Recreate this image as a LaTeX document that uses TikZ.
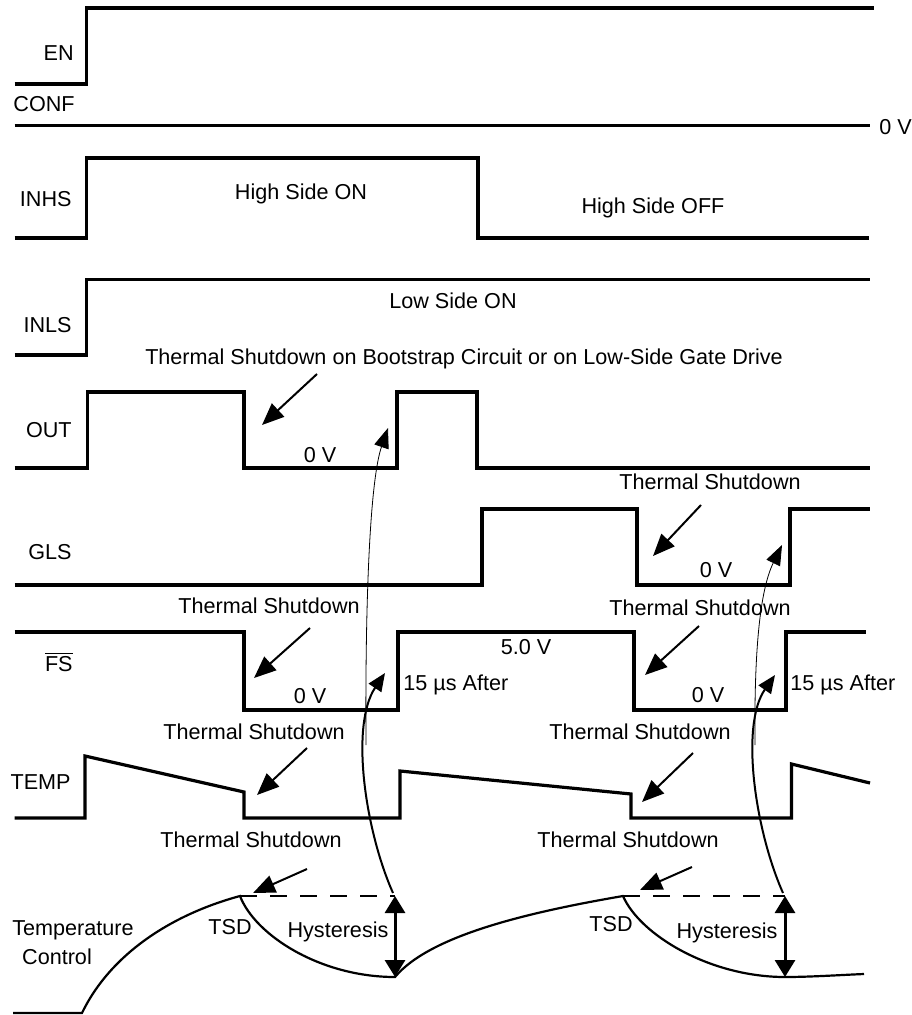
\documentclass[tikz,border=0pt]{standalone}
\usepackage{fontspec}
\setmainfont{Liberation Sans}
\usetikzlibrary{arrows.meta}

\begin{document}
\begin{tikzpicture}[
            x=0.5pt, y=-0.5pt,
            line join=miter,
            signal/.style={line width=1.6pt},
            sig name/.style={font=\fontsize{10.8}{13}\selectfont, inner sep=0pt, anchor=east},
            note/.style={font=\fontsize{10.8}{13}\selectfont, inner sep=0pt},
            tsd arrow/.style={line width=1pt, -{Triangle[length=11pt, width=9pt]}},
            delay arrow/.style={line width=1pt, -{Triangle[length=9pt, width=7.5pt]}},
            reset arrow/.style={line width=0.4pt, -{Triangle[length=10pt, width=7.5pt]}},
            hyst arrow/.style={line width=1.5pt, {Triangle[length=8.5pt, width=10pt]}-{Triangle[length=8.5pt, width=10pt]}},
            threshold/.style={line width=1.35pt, dash pattern=on 8.5pt off 6.5pt},
            temp curve/.style={line width=1.1pt},
        ]
        \useasboundingbox (0,0) rectangle (911,1015);
        \def\xs{14.6}
        \def\xe{870}

        % signal names
        \node[sig name] (en) at (74,53) {EN};
        \node[sig name] (conf) at (75,104) {CONF};
        \node[sig name] (inhs) at (72,199) {INHS};
        \node[sig name] (inls) at (72,325) {INLS};
        \node[sig name] (out) at (72,430) {OUT};
        \node[sig name] (gls) at (72,552) {GLS};
        \node[sig name] (fs) at (73,662) {\ensuremath{\overline{\hbox{FS}}}};
        \node[sig name] (temp) at (71,782) {TEMP};
        \node[note] (tctl1) at (73,930) {Temperature};
        \node[note] (tctl2) at (57,957) {Control};

        % waveforms
        \draw[signal] (\xs,84) -- (86.5,84) -- (86.5,8) -- (874,8);
        \draw[signal] (\xs,125.7) -- (\xe,125.7);
        \node[note, anchor=west] (zero) at (879,127) {0 V};
        \draw[signal] (\xs,238) -- (86.5,238) -- (86.5,158) -- (478,158) -- (478,238) -- (868.6,238);
        \draw[signal] (\xs,355) -- (86.5,355) -- (86.5,279.3) -- (\xe,279.3);
        \draw[signal] (\xs,468) -- (87.6,468) -- (87.6,392) -- (244,392) -- (244,468)
            -- (397,468) -- (397,392) -- (477,392) -- (477,468) -- (\xe,468);
        \draw[signal] (\xs,585) -- (482,585) -- (482,509) -- (637,509) -- (637,585)
            -- (790,585) -- (790,509) -- (\xe,509);
        \draw[signal] (\xs,632) -- (244,632) -- (244,710) -- (398,710) -- (398,632)
            -- (634,632) -- (634,710) -- (786,710) -- (786,632) -- (866,632);
        \draw[signal] (\xs,818) -- (85,818) -- (85,756) -- (244,792) -- (244,818)
            -- (400,818) -- (400,771) -- (631,794) -- (631,818) -- (791.5,818)
            -- (791.5,764) -- (\xe,783);

        % texts
        \node[note] (hson) at (301,194) {High Side ON};
        \node[note] (hsoff) at (653,208) {High Side OFF};
        \node[note] (lson) at (453,301) {Low Side ON};
        \node[note] (boot) at (464,359) {Thermal Shutdown on Bootstrap Circuit or on Low-Side Gate Drive};
        \node[note] (out0v) at (320,455) {0 V};
        \node[note] (tsdgls) at (710,482) {Thermal Shutdown};
        \node[note] (gls0v) at (716,570) {0 V};
        \node[note] (tsdfs1) at (269,606) {Thermal Shutdown};
        \node[note] (tsdfs2) at (700,608) {Thermal Shutdown};
        \node[note] (fs5v) at (526,647) {5.0 V};
        \node[note] (fs0v1) at (310,696) {0 V};
        \node[note] (fs0v2) at (708,695) {0 V};
        \node[note, anchor=west] (after1) at (403,685) {15 µs After};
        \node[note, anchor=west] (after2) at (790,685) {15 µs After};
        \node[note] (tsdtemp1) at (254,732) {Thermal Shutdown};
        \node[note] (tsdtemp2) at (640,732) {Thermal Shutdown};
        \node[note] (tsdctl1) at (251,840) {Thermal Shutdown};
        \node[note] (tsdctl2) at (628,840) {Thermal Shutdown};
        \node[note] (tsd1) at (230,927) {TSD};
        \node[note] (tsd2) at (611,924) {TSD};
        \node[note] (hyst1) at (338,932) {Hysteresis};
        \node[note] (hyst2) at (727,933) {Hysteresis};

        % arrow ends
        \coordinate (a1) at (317,374);  \coordinate (b1) at (262,425);
        \coordinate (a2) at (701,505);  \coordinate (b2) at (653,556);
        \coordinate (a3) at (310,628);  \coordinate (b3) at (254,678);
        \coordinate (a4) at (699,626);  \coordinate (b4) at (645,675);
        \coordinate (a5) at (307,748);  \coordinate (b5) at (257,795);
        \coordinate (a6) at (693,753);  \coordinate (b6) at (642,802);
        \coordinate (a7) at (307,869);  \coordinate (b7) at (253,893);
        \coordinate (a8) at (692,867);  \coordinate (b8) at (640,890);

        \foreach \i in {1,...,8}
            \draw[tsd arrow] (a\i) -- (b\i);

        % temperature
        \coordinate (peak1) at (240,896);
        \coordinate (low1) at (395,977);
        \coordinate (peak2) at (623,896);
        \coordinate (low2) at (785,977);
        \coordinate (top1) at (395,896);
        \coordinate (top2) at (785,896);

        \draw[temp curve] (13,1013) -- (82,1013) .. controls (110,955) and (170,915) .. (peak1)
            .. controls (255,935) and (320,977) .. (low1)
            .. controls (430,935) and (530,912) .. (peak2)
            .. controls (640,935) and (710,977) .. (low2)
            .. controls (810,977) and (840,975) .. (864,974);
        \draw[threshold] (peak1) -- (top1);
        \draw[threshold] (peak2) -- (top2);
        \draw[hyst arrow] (top1) -- (low1);
        \draw[hyst arrow] (top2) -- (low2);

        % restart after 15 us
        \coordinate (s1) at (393,893);  \coordinate (e1) at (385,673);
        \coordinate (s2) at (783,893);  \coordinate (e2) at (775,675);
        \coordinate (t1) at (366,745);  \coordinate (f1) at (388,428);
        \coordinate (t2) at (755,745);  \coordinate (f2) at (782,545);

        \draw[delay arrow] (s1) .. controls (365,830) and (350,725) .. (e1);
        \draw[delay arrow] (s2) .. controls (755,830) and (740,725) .. (e2);
        \draw[reset arrow] (t1) .. controls (365,600) and (370,480) .. (f1);
        \draw[reset arrow] (t2) .. controls (754,650) and (760,590) .. (f2);
\end{tikzpicture}
\end{document}
